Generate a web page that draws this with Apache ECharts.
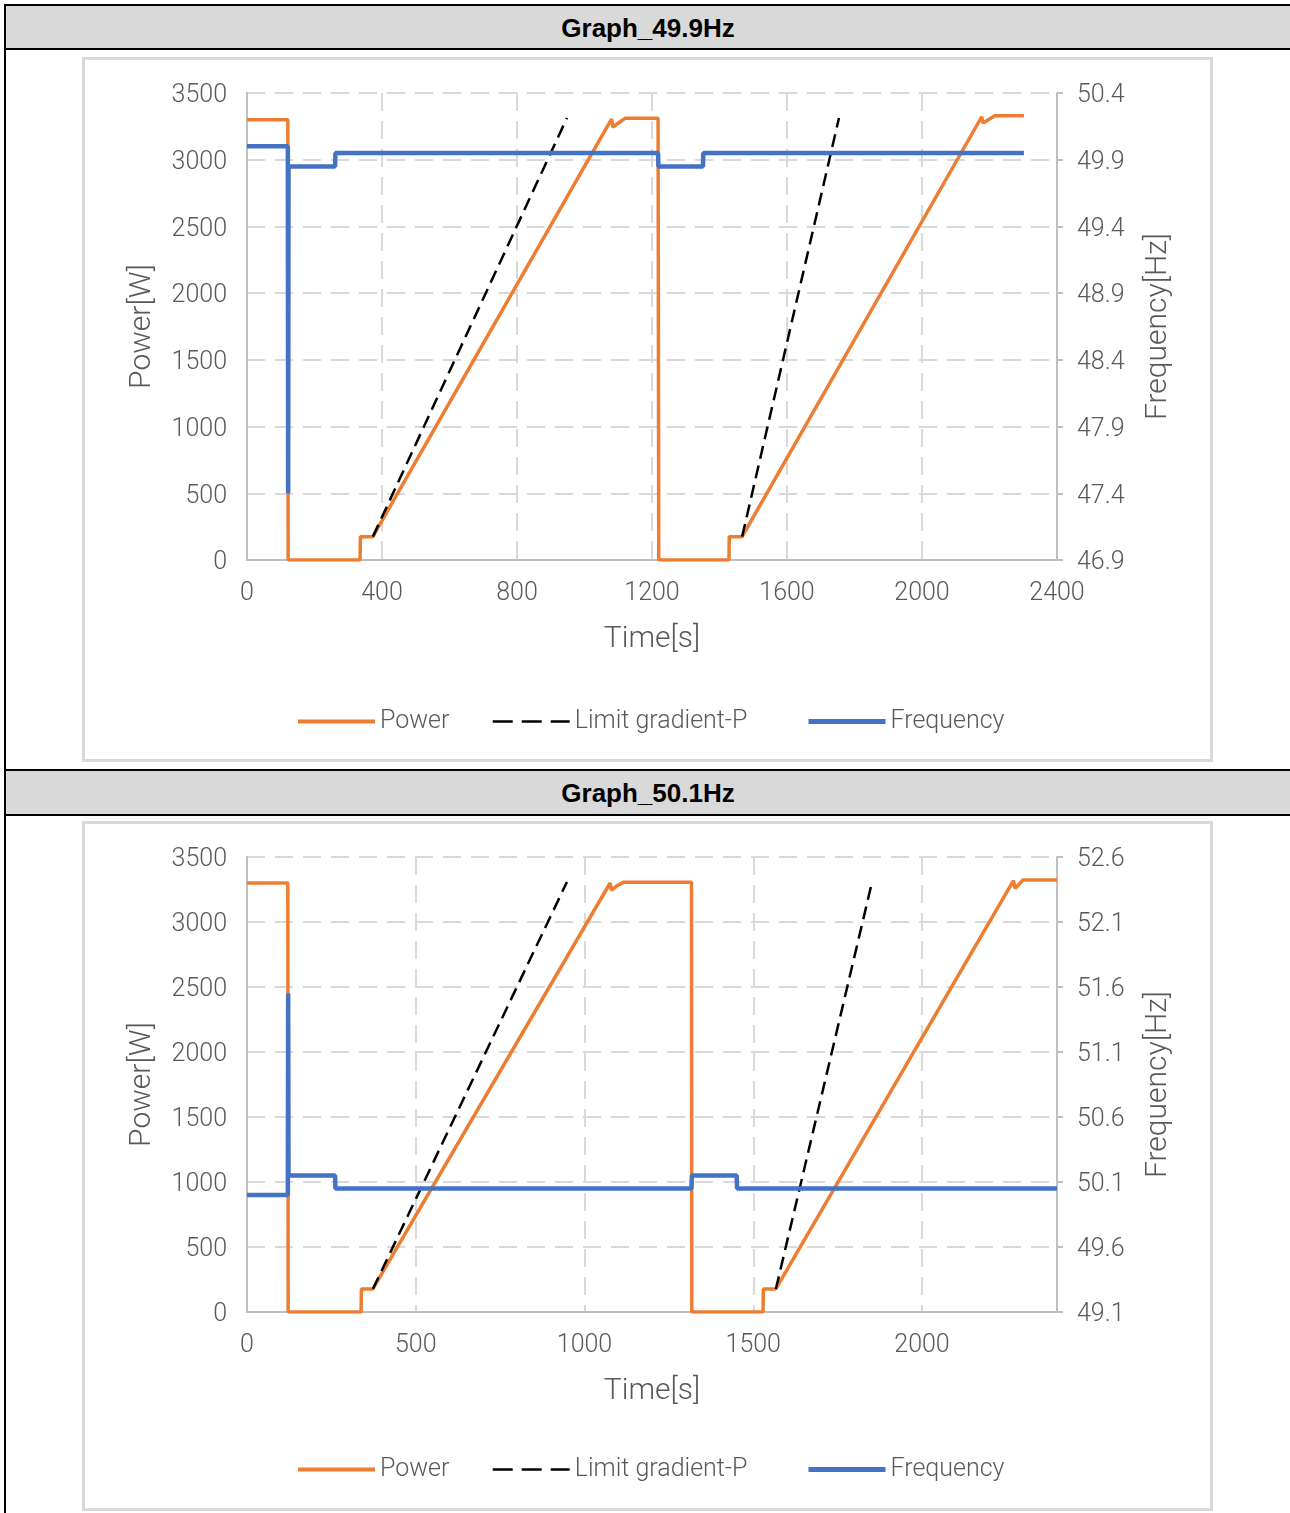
<!DOCTYPE html>
<html>
<head>
<meta charset="utf-8">
<script src="https://cdn.jsdelivr.net/npm/echarts@6/dist/echarts.min.js"></script>
<style>
  body { margin: 0; background: #fff; width: 1290px; height: 1513px; position: relative; overflow: hidden; }
  .vline { position: absolute; left: 4px; top: 4px; width: 2px; height: 1513px; background: #000; }
  .hline { position: absolute; left: 4px; width: 1290px; height: 2px; background: #000; }
  .head { position: absolute; left: 6px; width: 1284px; background: #d9d9d9; text-align: center;
          font-family: "Liberation Sans", Arial, sans-serif; font-weight: bold; font-size: 26px; color: #000; }
  .box { position: absolute; left: 82px; width: 1131px; box-sizing: border-box; border: 3px solid #d9d9d9; }
</style>
</head>
<body>
<div class="vline"></div>
<div class="hline" style="top:4px"></div>
<div class="head" style="top:6px;height:42px;line-height:44px">Graph_49.9Hz</div>
<div class="hline" style="top:48px"></div>
<div class="box" id="c1" style="top:57px;height:705px"></div>
<div class="hline" style="top:769px"></div>
<div class="head" style="top:771px;height:43px;line-height:45px">Graph_50.1Hz</div>
<div class="hline" style="top:814px"></div>
<div class="box" id="c2" style="top:821px;height:690px"></div>

<script>
// ---- chart 1 (49.9 Hz) ----
var power1T = [0, 121, 122, 335, 336, 373, 1080, 1084, 1105, 1120, 1218, 1220, 1428, 1429, 1467, 2177, 2181, 2216, 2302];
var power1P = [3300, 3300, 0, 0, 175, 175, 3305, 3245, 3283, 3310, 3310, 0, 0, 175, 175, 3322, 3275, 3330, 3330];
var limit1T = [373, 948, 1200, 1467, 1754];
var limit1P = [175, 3313, null, 175, 3313];
var freq1T = [0, 121, 122, 123, 261, 262, 1218, 1219, 1351, 1352, 2302];
var freq1F = [50.0, 50.0, 47.4, 49.85, 49.85, 49.95, 49.95, 49.85, 49.85, 49.95, 49.95];
var freq1Min = 46.9;

// ---- chart 2 (50.1 Hz) ----
var power2T = [0, 121, 122, 338, 339, 373, 1076, 1080, 1100, 1115, 1317, 1318, 1529, 1530, 1567, 2271, 2276, 2299, 2400];
var power2P = [3300, 3300, 0, 0, 177, 177, 3300, 3245, 3285, 3305, 3305, 0, 0, 177, 177, 3318, 3259, 3323, 3323];
var limit2T = [373, 948, 1200, 1567, 1852];
var limit2P = [177, 3308, null, 177, 3308];
var freq2T = [0, 121, 122, 123, 261, 262, 1317, 1318, 1451, 1452, 2400];
var freq2F = [50.0, 50.0, 51.55, 50.15, 50.15, 50.05, 50.05, 50.15, 50.15, 50.05, 50.05];
var freq2Min = 49.1;

var labelFont = 'Roboto';
var gray = '#595959';

function zip(xs, ys, off) {
  return xs.map(function (x, i) {
    return ys[i] == null ? [x, '-'] : [x, ys[i] - (off || 0)];
  });
}

function makeChart(id, c) {
  var chart = echarts.init(document.getElementById(id), null, { renderer: 'canvas' });
  var txt = { color: gray, fontSize: 25, fontFamily: labelFont, fontWeight: 300 };
  var nameTxt = { color: gray, fontSize: 30, fontFamily: labelFont, fontWeight: 300 };
  var plain = function (v) { return String(v); };
  // y labels sit a few px low in the reference
  var low = { a: Object.assign({ padding: [6, 0, 0, 0] }, txt) };
  var legendBase = {
    top: c.legendTop,
    itemWidth: 77, itemHeight: 16, itemGap: 42,
    itemStyle: { opacity: 0 },
    textStyle: txt
  };
  chart.setOption({
    animation: false,
    grid: { left: 162, top: 33, width: 810, height: c.gridH },
    legend: [
      Object.assign({
        left: 206,
        data: [
          { name: 'Power', lineStyle: { width: 4 } },
          { name: 'Limit gradient-P', lineStyle: { width: 2.5, type: [20, 9] } }
        ]
      }, legendBase),
      Object.assign({
        left: 716,
        data: [{ name: 'Frequency', lineStyle: { width: 5 } }]
      }, legendBase)
    ],
    xAxis: {
      type: 'value', min: 0, max: 2400, interval: c.xStep,
      name: 'Time[s]', nameLocation: 'middle', nameGap: 64,
      nameTextStyle: nameTxt,
      axisLine: { show: true, lineStyle: { color: '#bfbfbf', width: 2 } },
      axisTick: { show: false },
      axisLabel: Object.assign({ margin: 21, showMaxLabel: c.xStep === 400, formatter: plain }, txt),
      splitLine: { show: true, lineStyle: { color: '#d9d9d9', width: 2, type: [18, 10] } }
    },
    yAxis: [{
      type: 'value', min: 0, max: 3500, interval: 500,
      name: 'Power[W]', nameLocation: 'middle', nameGap: 90,
      nameTextStyle: nameTxt,
      axisLine: { show: true, lineStyle: { color: '#bfbfbf', width: 2 } },
      axisTick: { show: false },
      axisLabel: Object.assign({
        margin: 20, rich: low,
        formatter: function (v) { return '{a|' + v + '}'; }
      }, txt),
      splitLine: { show: true, lineStyle: { color: '#d9d9d9', width: 2, type: [18, 10] } }
    }, {
      type: 'value', min: 0, max: 3.5, interval: 0.5, position: 'right',
      name: 'Frequency[Hz]', nameLocation: 'middle', nameGap: 86, nameRotate: 90,
      nameTextStyle: nameTxt,
      axisLine: { show: true, lineStyle: { color: '#bfbfbf', width: 2 } },
      axisTick: { show: true, length: 6, lineStyle: { color: '#bfbfbf', width: 2 } },
      axisLabel: Object.assign({
        margin: 20, rich: low,
        formatter: function (v) { return '{a|' + (c.fMin + v).toFixed(1) + '}'; }
      }, txt),
      splitLine: { show: false }
    }],
    series: [{
      name: 'Power', type: 'line', symbol: 'none', yAxisIndex: 0,
      lineStyle: { color: '#ed7d31', width: 3.5 }, itemStyle: { color: '#ed7d31' },
      data: zip(c.pT, c.pP)
    }, {
      name: 'Limit gradient-P', type: 'line', symbol: 'none', yAxisIndex: 0,
      lineStyle: { color: '#000', width: 2.5, type: [13, 7] }, itemStyle: { color: '#000' },
      data: zip(c.lT, c.lP)
    }, {
      name: 'Frequency', type: 'line', symbol: 'none', yAxisIndex: 1,
      lineStyle: { color: '#4472c4', width: 4.5 }, itemStyle: { color: '#4472c4' },
      data: zip(c.fT, c.fF, c.fMin)
    }]
  });
}

makeChart('c1', {
  gridH: 467, xStep: 400, legendTop: 644, fMin: freq1Min,
  pT: power1T, pP: power1P, lT: limit1T, lP: limit1P, fT: freq1T, fF: freq1F
});
makeChart('c2', {
  gridH: 455, xStep: 500, legendTop: 628, fMin: freq2Min,
  pT: power2T, pP: power2P, lT: limit2T, lP: limit2P, fT: freq2T, fF: freq2F
});
</script>
</body>
</html>
